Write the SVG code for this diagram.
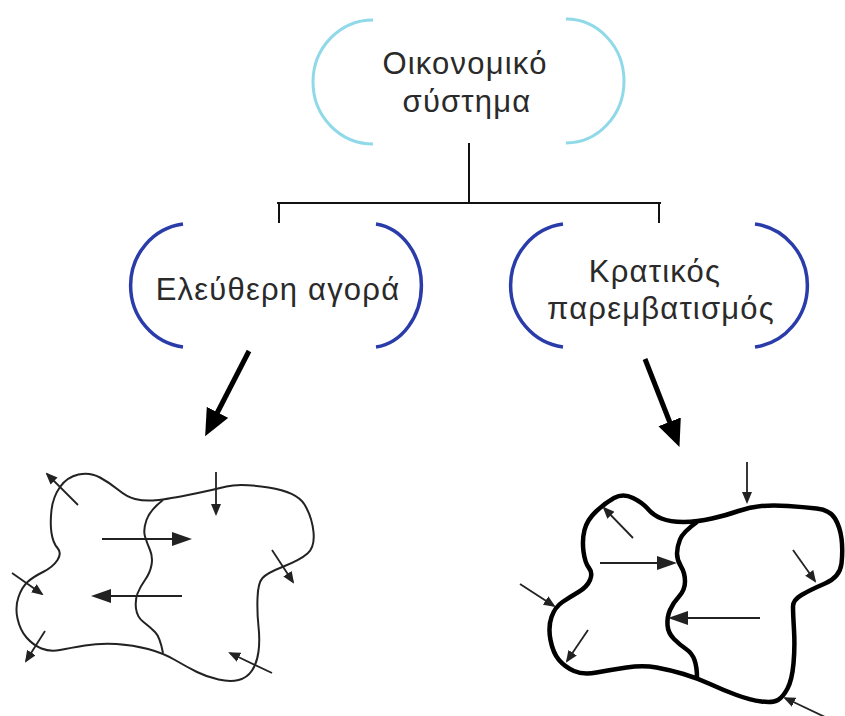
<svg xmlns="http://www.w3.org/2000/svg" width="845" height="716" viewBox="0 0 845 716">
<defs>
<style>
.lbl{font-family:"Liberation Sans",Arial,sans-serif;font-size:31px;letter-spacing:1.2px;fill:#2a2a2a;text-anchor:middle}
.arcC{fill:none;stroke:#8fd9e8;stroke-width:3}
.arcB{fill:none;stroke:#2a3caa;stroke-width:3.5}
.conn{fill:none;stroke:#111;stroke-width:2}
.big{fill:none;stroke:#000;stroke-width:5;marker-end:url(#hBig)}
.thin{fill:none;stroke:#222;stroke-width:2}
.thick{fill:none;stroke:#000;stroke-width:4.5}
.sa{fill:none;stroke:#222;stroke-width:1.8;marker-end:url(#hS)}
.ma{fill:none;stroke:#222;stroke-width:2;marker-end:url(#hM)}
</style>
<marker id="hBig" markerUnits="userSpaceOnUse" markerWidth="27" markerHeight="25" refX="12" refY="12" orient="auto"><path d="M0,0 L27,12 L0,24 z" fill="#000"/></marker>
<marker id="hS" markerUnits="userSpaceOnUse" markerWidth="12" markerHeight="10" refX="10" refY="5" orient="auto"><path d="M0,0 L12,5 L0,10 z" fill="#222"/></marker>
<marker id="hM" markerUnits="userSpaceOnUse" markerWidth="20" markerHeight="15" refX="17" refY="7" orient="auto"><path d="M0,0 L20,7 L0,14 z" fill="#222"/></marker>
</defs>

<g id="connectors">
<path class="conn" d="M469,143 V204"/>
<path class="conn" d="M277,203 H661"/>
<path class="conn" d="M279,203 V223"/>
<path class="conn" d="M659,203 V223"/>
<path class="big" d="M249,351 L212,423"/>
<path class="big" d="M645,359 L674,433"/>
</g>

<g id="node-economic-system">
<path class="arcC" d="M373,20 A60,62 0 0 0 373,144"/>
<path class="arcC" d="M566,19 A58,62 0 0 1 566,143"/>
<text class="lbl" x="465" y="74">Οικονομικό</text>
<text class="lbl" x="467" y="112">σύστημα</text>
</g>

<g id="node-free-market">
<path class="arcB" d="M183,224 A60,62 0 0 0 183,347"/>
<path class="arcB" d="M376,224 A52,62 0 0 1 376,347"/>
<text class="lbl" x="278" y="300">Ελεύθερη αγορά</text>
</g>

<g id="node-state-intervention">
<path class="arcB" d="M563,224 A60,62 0 0 0 563,347"/>
<path class="arcB" d="M755,224 A60,62 0 0 1 755,347"/>
<text class="lbl" x="655" y="282">Κρατικός</text>
<text class="lbl" x="661" y="319">παρεμβατισμός</text>
</g>

<g id="free-market-map">
<path class="thin" d="M51.5,510 Q53,497 60,487 Q67,477 78.5,474.5 Q90,472 100,477.5 Q110,483 118.5,490 Q127,497 135,499 Q143,501 153,500.5 Q163,500 188,495 Q213,490 226.5,486.5 Q240,483 268.5,487.5 Q297,492 304.5,504.5 Q312,517 313.5,532 Q315,547 307.5,553.5 Q300,560 283.5,566.5 Q267,573 262.5,578 Q258,583 257.5,598 Q257,613 258.5,626.5 Q260,640 258.5,651.5 Q257,663 252,670.5 Q247,678 238.5,680 Q230,682 218.5,679.5 Q207,677 197,672 Q187,667 175,660 Q163,653 148,649 Q133,645 116.5,644 Q100,643 85,645.5 Q70,648 60,650 Q50,652 41.5,648.5 Q33,645 26.5,637.5 Q20,630 17.5,618.5 Q15,607 18.5,597 Q22,587 27.5,582 Q33,577 43,572 Q53,567 57.5,560 Q62,553 57.5,548 Q53,543 51.5,533 Q50,523 51.5,510 Z"/>
<path class="thin" d="M163,500 Q150,510 146.5,520 Q143,530 145,536.5 Q147,543 150,550 Q153,557 151.5,565 Q150,573 145,580 Q140,587 137.5,593.5 Q135,600 136,608.5 Q137,617 143.5,622 Q150,627 155,632 Q160,637 163,653"/>
<path class="sa" d="M78,505 L47,474"/>
<path class="sa" d="M216,472 V514"/>
<path class="ma" d="M102,539 H189"/>
<path class="ma" d="M182,596 H94"/>
<path class="sa" d="M12,573 L42,594"/>
<path class="sa" d="M45,631 L26,661"/>
<path class="sa" d="M272,550 L293,582"/>
<path class="sa" d="M272,673 L230,653"/>
</g>

<g id="state-intervention-map">
<path class="thick" d="M614,498 Q605,503 596,511.5 Q587,520 584.5,530 Q582,540 583.5,551.5 Q585,563 589,568 Q593,573 590,580 Q587,587 578.5,592 Q570,597 562.5,602 Q555,607 551.5,617 Q548,627 550.5,640 Q553,653 559,660 Q565,667 574,671 Q583,675 596.5,672.5 Q610,670 626.5,667.5 Q643,665 656.5,667.5 Q670,670 683.5,674 Q697,678 710,684 Q723,690 736.5,695 Q750,700 761.5,701.5 Q773,703 778,700 Q783,697 787.5,688.5 Q792,680 793.5,663.5 Q795,647 794,630 Q793,613 793,606.5 Q793,600 801.5,595 Q810,590 825,583.5 Q840,577 841.5,563.5 Q843,550 841.5,538.5 Q840,527 835,518.5 Q830,510 816.5,508.5 Q803,507 788,506 Q773,505 761.5,506 Q750,507 738.5,511 Q727,515 712,518.5 Q697,522 683.5,522 Q670,522 661.5,518.5 Q653,515 648,509 Q643,503 633,498 Q623,493 614,498 Z"/>
<path class="thick" d="M697,522 Q683,532 680,539.5 Q677,547 677,553.5 Q677,560 681,566.5 Q685,573 685,581.5 Q685,590 679,596.5 Q673,603 670,610 Q667,617 667.5,625 Q668,633 674,639 Q680,645 686,649 Q692,653 694.5,660 Q697,667 697,678"/>
<path class="sa" d="M633,538 L604,508"/>
<path class="sa" d="M747,462 V502"/>
<path class="ma" d="M600,563 H674"/>
<path class="ma" d="M760,618 H671"/>
<path class="sa" d="M520,584 L554,606"/>
<path class="sa" d="M588,630 L567,661"/>
<path class="sa" d="M793,550 L815,581"/>
<path class="sa" d="M825,717 L785,698"/>
</g>
</svg>
